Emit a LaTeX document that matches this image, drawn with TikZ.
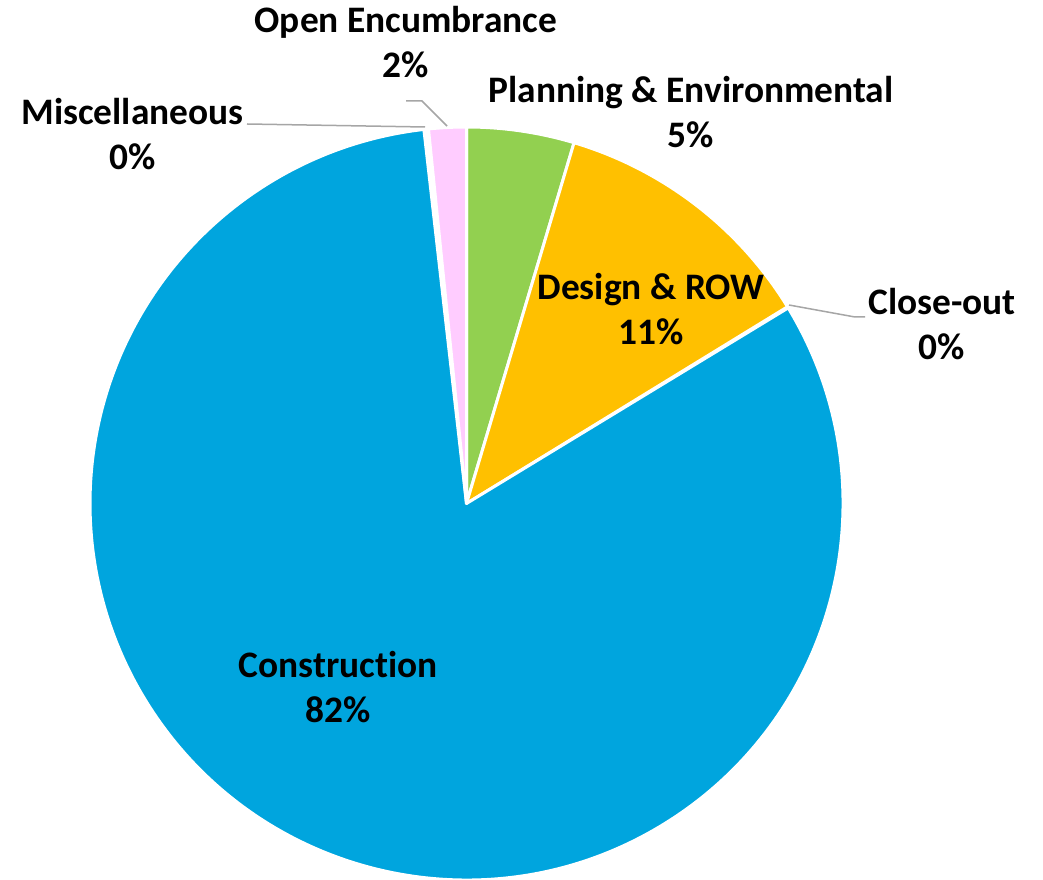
\documentclass[tikz,border=0pt]{standalone}
\usepackage{fontspec}
\setmainfont[Ligatures={NoCommon}]{Carlito}
\definecolor{cblue}{HTML}{00A5DE}
\definecolor{cgreen}{HTML}{92D050}
\definecolor{cyellow}{HTML}{FFC000}
\definecolor{cpink}{HTML}{FFCCFF}
\definecolor{cgrey}{HTML}{A6A6A6}
\tikzset{
  slice/.style={draw=white, line width=3pt, line join=round},
  lbl/.style={font=\fontsize{37.4}{45}\selectfont\bfseries, align=center, anchor=base, inner sep=0pt, text=black},
  leader/.style={draw=cgrey, line width=1.5pt}
}
\begin{document}
\begin{tikzpicture}[x=1pt,y=1pt]
\fill[white] (0,0) rectangle (1043,879);
\useasboundingbox (0,0) rectangle (1043,879);
\coordinate (c) at (466.5,375.5);
\def\R{376.5}
% slices
\filldraw[slice, fill=cgreen] (c) -- ++(90:\R) arc[start angle=90, end angle=73.4, radius=\R] -- cycle;
\filldraw[slice, fill=cyellow] (c) -- ++(73.4:\R) arc[start angle=73.4, end angle=31.5, radius=\R] -- cycle;
\filldraw[slice, fill=cblue] (c) -- ++(31.3:\R) arc[start angle=31.3, end angle=-263.5, radius=\R] -- cycle;
\filldraw[slice, fill=cpink] (c) -- ++(95.8:\R) arc[start angle=95.8, end angle=90, radius=\R] -- cycle;
% labels (anchor = baseline of last line)
\node[lbl] (oe) at (406,801) {Open Encumbrance\\2\%};
\node[lbl] (pe) at (691,731) {Planning \& Environmental\\5\%};
\node[lbl] (mi) at (132.5,709) {Miscellaneous\\0\%};
\node[lbl] (dr) at (651,534) {Design \& ROW\\11\%};
\node[lbl] (co) at (942,519) {Close-out\\0\%};
\node[lbl] (cn) at (338,157) {Construction\\82\%};
% leader lines
\coordinate (oe1) at (406,778);
\coordinate (oe2) at (422,778);
\coordinate (oe3) at (447,753);
\draw[leader] (oe1) -- (oe2) -- (oe3);
\coordinate (mi1) at (247,755);
\coordinate (mi2) at (425,752);
\draw[leader] (mi1) -- (mi2);
\coordinate (co1) at (789,574);
\coordinate (co2) at (855,562);
\coordinate (co3) at (865,562);
\draw[leader] (co1) -- (co2) -- (co3);
\end{tikzpicture}
\end{document}
